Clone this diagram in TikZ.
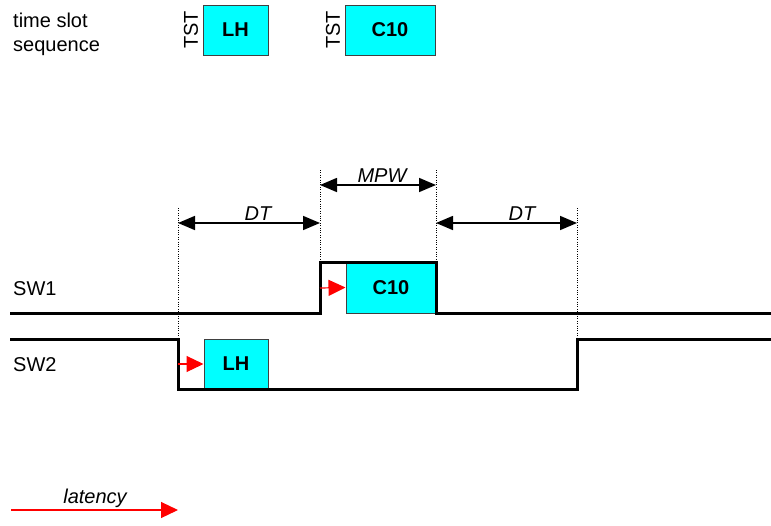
\documentclass[tikz,border=0pt]{standalone}
\usepackage{fontspec}
\setmainfont{Liberation Sans}
\usepackage{tikz}
\usetikzlibrary{arrows.meta}
\definecolor{slotcyan}{RGB}{0,255,255}

\begin{document}
\begin{tikzpicture}[x=1pt,y=-1pt,
	every node/.style={font=\fontsize{20}{24}\selectfont},
	slot/.style={shape=rectangle,draw=black!75,fill=slotcyan,line width=1pt,minimum height=50pt,font=\fontsize{20}{24}\selectfont\bfseries},
	lbl/.style={inner sep=0pt,anchor=base west},
	dim/.style={line width=1.6pt,{Triangle[length=17pt,width=14pt]}-{Triangle[length=17pt,width=14pt]}},
	lat/.style={red,line width=1.2pt,-{Triangle[length=17pt,width=16pt]}},
	signal/.style={line width=3pt,line join=miter}]
	\useasboundingbox (0,0) rectangle (771,525);

	% time slot sequence
	\node[lbl] (seqa) at (13,27) {time slot};
	\node[lbl] (seqb) at (13,51) {sequence};
	\node[rotate=90,inner sep=0pt] (tsta) at (191,30) {TST};
	\node[slot,minimum width=65pt] (lhseq) at (235.5,30) {LH};
	\node[rotate=90,inner sep=0pt] (tstb) at (333,30) {TST};
	\node[slot,minimum width=90pt] (cseq) at (390,30) {C10};

	% switch signals
	\node[lbl] (sw1) at (13,295) {SW1};
	\node[lbl] (sw2) at (13,371) {SW2};

	\coordinate (a0) at (10,313);
	\coordinate (a1) at (320,313);
	\coordinate (a2) at (320,262);
	\coordinate (a3) at (436,262);
	\coordinate (a4) at (436,313);
	\coordinate (a5) at (771,313);
	\coordinate (b0) at (10,339);
	\coordinate (b1) at (178,339);
	\coordinate (b2) at (178,389);
	\coordinate (b3) at (577,389);
	\coordinate (b4) at (577,339);
	\coordinate (b5) at (771,339);

	\node[slot,minimum width=90pt,minimum height=51pt] (c10) at (391,287.5) {C10};
	\node[slot,minimum width=64pt] (lh) at (236,364) {LH};

	\draw[signal] (a0) -- (a1) -- (a2) -- (a3) -- (a4) -- (a5);
	\draw[signal] (b0) -- (b1) -- (b2) -- (b3) -- (b4) -- (b5);

	\draw[lat] (320,288) -- (c10.west);
	\draw[lat] (178,364) -- (lh.west);

	% timing marks
	\coordinate (d1) at (178,208);
	\coordinate (d2) at (320,170);
	\coordinate (d3) at (436,170);
	\coordinate (d4) at (577,208);
	\draw[dotted] (d1) -- (b1);
	\draw[dotted] (d2) -- (a2);
	\draw[dotted] (d3) -- (a3);
	\draw[dotted] (d4) -- (b4);

	\draw[dim] (178,223) -- (320,223);
	\draw[dim] (320,185) -- (436,185);
	\draw[dim] (436,223) -- (577,223);
	\node[inner sep=0pt,anchor=base,font=\fontsize{20}{24}\selectfont\itshape] (dt1) at (258,220) {DT};
	\node[inner sep=0pt,anchor=base,font=\fontsize{20}{24}\selectfont\itshape] (mpw) at (382,182) {MPW};
	\node[inner sep=0pt,anchor=base,font=\fontsize{20}{24}\selectfont\itshape] (dt2) at (522,220) {DT};

	% legend
	\coordinate (l0) at (11,510);
	\coordinate (l1) at (178,510);
	\draw[lat] (l0) -- (l1);
	\node[inner sep=0pt,anchor=base,font=\fontsize{20}{24}\selectfont\itshape] (latency) at (95,503) {latency};
\end{tikzpicture}
\end{document}
